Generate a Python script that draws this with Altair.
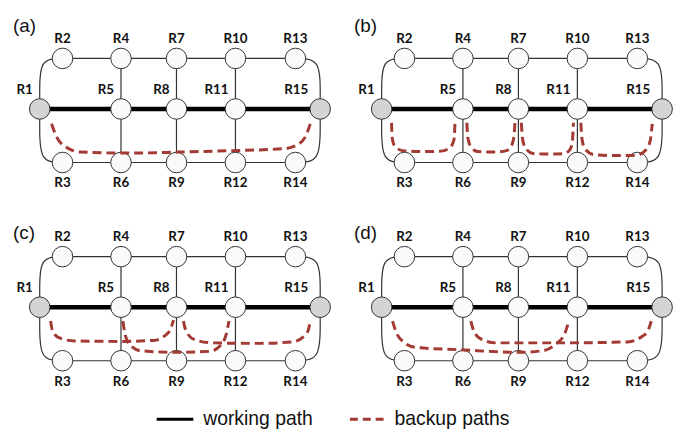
import altair as alt
import pandas as pd

# ---------------- data ----------------
node_names = ["R1", "R2", "R3", "R4", "R5", "R6", "R7", "R8", "R9",
              "R10", "R11", "R12", "R13", "R14", "R15"]
node_x = [40, 63, 63, 122, 122, 122, 178, 178, 178, 237.5, 237.5, 237.5, 298, 298, 323]
node_y = [108, 57, 162, 57, 108, 162, 57, 108, 162, 57, 108, 162, 57, 162, 108]
end_nodes = ["R1", "R15"]

straight_edges = [("R2", "R4"), ("R4", "R7"), ("R7", "R10"), ("R10", "R13"),
                  ("R3", "R6"), ("R6", "R9"), ("R9", "R12"), ("R12", "R14"),
                  ("R4", "R5"), ("R5", "R6"), ("R7", "R8"), ("R8", "R9"),
                  ("R10", "R11"), ("R11", "R12")]
curved_edges = [("R1", "R2"), ("R1", "R3"), ("R15", "R13"), ("R15", "R14")]
working_path = ["R1", "R5", "R8", "R11", "R15"]

panel_names = ["(a)", "(b)", "(c)", "(d)"]
panel_dx = [0, 345, 0, 345]
panel_dy = [0, 0, 200, 200]
panel_label_x = [13, 357, 13, 357]
panel_label_y = [30, 30, 239, 239]

# backup paths, waypoints (panel-local coordinates)
backup_paths = {
    0: [
        [(52, 123), (57, 136), (66, 146), (82, 151.5), (130, 152.5), (180, 151.5),
         (235, 150), (287, 148), (301, 143.5), (309, 134), (313, 123)],
    ],
    1: [
        [(50, 122), (50.5, 136), (53, 145), (61, 150), (80, 151), (100, 150.5),
         (109, 147), (113, 139), (114, 122)],
        [(126, 122), (127, 137), (130, 146), (137, 151), (155, 151.5), (166, 150),
         (171, 145), (173.5, 136), (174.5, 122)],
        [(181, 122), (182, 137), (185, 147), (193, 153), (210, 153.5), (224, 153),
         (230, 149), (232.5, 140), (233.5, 122)],
        [(241, 122), (242, 137), (245, 148), (254, 154), (275, 155), (296, 155),
         (306, 150), (311, 140), (313, 123)],
    ],
    2: [
        [(51, 122), (53, 132), (60, 139), (75, 142), (120, 142.5), (155, 141.5),
         (166, 137), (172, 130), (175, 121)],
        [(124, 122), (126, 135), (131, 146), (142, 152), (180, 153.5), (212, 152.5),
         (222, 147), (228, 136), (231, 122)],
        [(185, 122), (188, 133), (197, 141), (215, 144), (260, 144.5), (295, 143),
         (306, 138), (311, 131), (313, 122)],
    ],
    3: [
        [(51, 122), (55, 134), (62, 143), (74, 148.5), (120, 151), (178, 153.5),
         (202, 152), (216, 145), (225, 134), (229, 122)],
        [(130, 122), (133, 132), (140, 140), (155, 144), (220, 144), (288, 143),
         (302, 138), (309, 131), (312, 122)],
    ],
}

legend_labels = ["working path", "backup paths"]
legend_line_x = [(158, 195), (353, 387)]
legend_text_x = [205, 398]
legend_y = 421

# ---------------- build tables ----------------
pos = {n: (x, y) for n, x, y in zip(node_names, node_x, node_y)}

node_rows, lab_c, lab_r, edge_rows, work_rows, back_rows = [], [], [], [], [], []
for p in range(4):
    dx, dy = panel_dx[p], panel_dy[p]
    for n in node_names:
        x, y = pos[n]
        node_rows.append(dict(x=x + dx, y=y + dy, fill="#d4d4d4" if n in end_nodes else "#fafafa"))
        if y == 57:
            lab_c.append(dict(x=x + dx, y=y + dy - 16, t=n))
        elif y == 162:
            lab_c.append(dict(x=x + dx, y=y + dy + 25, t=n))
        else:
            off = 12 if n == "R15" else 7
            lab_r.append(dict(x=x + dx - off, y=y + dy - 15, t=n))
    for i, (a, b) in enumerate(straight_edges):
        for k, n in enumerate((a, b)):
            edge_rows.append(dict(eid=f"{p}s{i}", k=k, x=pos[n][0] + dx, y=pos[n][1] + dy))
    for i, (a, b) in enumerate(curved_edges):
        ax, ay = pos[a]
        bx, by = pos[b]
        sgn = 1 if by > ay else -1
        pts = [(ax, ay), (ax, ay + sgn * 18), (ax, by), (bx, by)]
        for k, (x, y) in enumerate(pts):
            edge_rows.append(dict(eid=f"{p}c{i}", k=k, x=x + dx, y=y + dy))
    for k, n in enumerate(working_path):
        work_rows.append(dict(eid=f"{p}w", k=k, x=pos[n][0] + dx, y=pos[n][1] + dy))
    for j, path in enumerate(backup_paths[p]):
        for k, (x, y) in enumerate(path):
            back_rows.append(dict(eid=f"{p}b{j}", k=k, x=x + dx, y=y + dy))

nodes_df = pd.DataFrame(node_rows)
labc_df = pd.DataFrame(lab_c)
labr_df = pd.DataFrame(lab_r)
edges_df = pd.DataFrame(edge_rows)
work_df = pd.DataFrame(work_rows)
back_df = pd.DataFrame(back_rows)
panel_df = pd.DataFrame(dict(x=panel_label_x, y=panel_label_y, t=panel_names))

leg_solid = pd.DataFrame(dict(eid=["s", "s"], k=[0, 1], x=list(legend_line_x[0]), y=[legend_y] * 2))
leg_dash = pd.DataFrame(dict(eid=["d", "d"], k=[0, 1], x=list(legend_line_x[1]), y=[legend_y] * 2))
leg_text = pd.DataFrame(dict(x=legend_text_x, y=[legend_y] * 2, t=legend_labels))

# ---------------- chart ----------------
xs = alt.Scale(domain=[8, 681], nice=False, zero=False)
ys = alt.Scale(domain=[8, 430], nice=False, zero=False, reverse=True)
X = alt.X("x:Q", scale=xs, axis=None)
Y = alt.Y("y:Q", scale=ys, axis=None)

RED = "#a33a33"

edges = alt.Chart(edges_df).mark_line(interpolate="basis", color="#333333", strokeWidth=1.2).encode(
    x=X, y=Y, detail="eid:N", order="k:Q")
work = alt.Chart(work_df).mark_line(color="#000000", strokeWidth=4.5).encode(
    x=X, y=Y, detail="eid:N", order="k:Q")
nodes = alt.Chart(nodes_df).mark_circle(size=430, stroke="#333333", strokeWidth=1, opacity=1).encode(
    x=X, y=Y, fill=alt.Fill("fill:N", scale=None))
back = alt.Chart(back_df).mark_line(interpolate="monotone", color=RED, strokeWidth=3,
                                     strokeDash=[9, 5]).encode(
    x=X, y=Y, detail="eid:N", order="k:Q")
lab_center = alt.Chart(labc_df).mark_text(font="Lato", fontWeight="bold", fontSize=13.5,
                                          align="center", baseline="alphabetic", color="#111111").encode(
    x=X, y=Y, text="t:N")
lab_right = alt.Chart(labr_df).mark_text(font="Lato", fontWeight="bold", fontSize=13.5,
                                         align="right", baseline="alphabetic", color="#111111").encode(
    x=X, y=Y, text="t:N")
panels = alt.Chart(panel_df).mark_text(font="Liberation Sans", fontSize=19, align="left",
                                       baseline="alphabetic", color="#111111").encode(
    x=X, y=Y, text="t:N")
l_solid = alt.Chart(leg_solid).mark_line(color="#000000", strokeWidth=3).encode(
    x=X, y=Y, detail="eid:N", order="k:Q")
l_dash = alt.Chart(leg_dash).mark_line(color=RED, strokeWidth=3, strokeDash=[8, 5]).encode(
    x=X, y=Y, detail="eid:N", order="k:Q")
l_text = alt.Chart(leg_text).mark_text(font="Liberation Sans", fontSize=19.5, align="left",
                                       baseline="middle", color="#111111").encode(
    x=X, y=Y, text="t:N")

chart = alt.layer(edges, work, nodes, back, lab_center, lab_right, panels,
                  l_solid, l_dash, l_text).properties(
    width=673, height=422, padding=0, autosize="none"
).configure_view(stroke=None)

chart.save("out.html", embed_options={"renderer": "svg", "actions": False})
